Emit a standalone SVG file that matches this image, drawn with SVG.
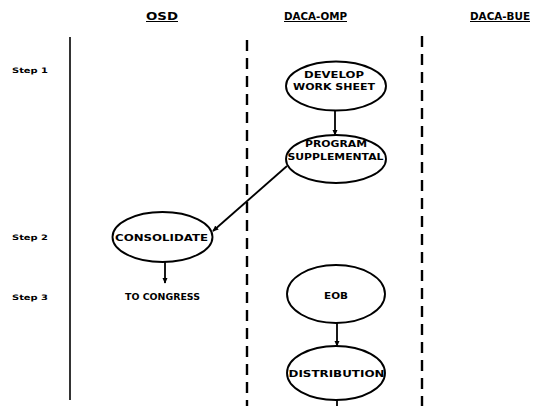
<svg xmlns="http://www.w3.org/2000/svg" width="534" height="406" viewBox="0 0 534 406">
  <defs>
    <marker id="arrow" viewBox="0 0 8 8" refX="7" refY="4" markerWidth="6" markerHeight="7" orient="auto" markerUnits="userSpaceOnUse">
      <path d="M0,0.5 L8,4 L0,7.5 z" fill="#000"/>
    </marker>
  </defs>
  <style>
    text { font-family: "DejaVu Sans", "Liberation Sans", Arial, sans-serif; font-weight: bold; fill: #000; }
    .hdr { font-size: 10px; text-decoration: underline; }
    .step { font-size: 7.5px; }
    .lbl { font-size: 9px; text-anchor: middle; }
    .node ellipse { fill: #fff; stroke: #000; stroke-width: 1.9; }
    .lane { stroke: #000; fill: none; }
    .solid { stroke-width: 1.6; }
    .dash { stroke-width: 2.4; stroke-dasharray: 11 7; }
    .conn line { stroke: #000; stroke-width: 1.8; }
  </style>
  <rect width="534" height="406" fill="#fff"/>

  <!-- column headers -->
  <g id="headers">
    <text class="hdr" x="146" y="20" textLength="32" lengthAdjust="spacingAndGlyphs">OSD</text>
    <text class="hdr" x="284" y="20" textLength="63" lengthAdjust="spacingAndGlyphs">DACA-OMP</text>
    <text class="hdr" x="470" y="20" textLength="60" lengthAdjust="spacingAndGlyphs">DACA-BUE</text>
  </g>

  <!-- step labels -->
  <g id="steps">
    <text class="step" x="12" y="73" textLength="36" lengthAdjust="spacingAndGlyphs">Step 1</text>
    <text class="step" x="12" y="240" textLength="36" lengthAdjust="spacingAndGlyphs">Step 2</text>
    <text class="step" x="12" y="300" textLength="36" lengthAdjust="spacingAndGlyphs">Step 3</text>
  </g>

  <!-- lane separators -->
  <g id="lanes">
    <line class="lane solid" x1="70" y1="37" x2="70" y2="400"/>
    <line class="lane dash" x1="247" y1="40" x2="247" y2="406"/>
    <line class="lane dash" x1="422" y1="36" x2="422" y2="406"/>
  </g>

  <!-- connectors -->
  <g id="connectors" class="conn">
    <line x1="335" y1="110" x2="335" y2="135" marker-end="url(#arrow)"/>
    <line x1="287" y1="166" x2="213" y2="231" marker-end="url(#arrow)"/>
    <line x1="165" y1="262" x2="165" y2="283" marker-end="url(#arrow)"/>
    <line x1="337" y1="323" x2="337" y2="346" marker-end="url(#arrow)"/>
    <line x1="337" y1="400" x2="337" y2="406"/>
  </g>

  <g id="develop" class="node">
    <ellipse cx="336" cy="86" rx="50" ry="24.5"/>
    <text class="lbl" x="334" y="78" textLength="60" lengthAdjust="spacingAndGlyphs">DEVELOP</text>
    <text class="lbl" x="334" y="90" textLength="82" lengthAdjust="spacingAndGlyphs">WORK SHEET</text>
  </g>

  <g id="program" class="node">
    <ellipse cx="336" cy="159" rx="50" ry="24"/>
    <text class="lbl" x="336" y="147" textLength="62" lengthAdjust="spacingAndGlyphs">PROGRAM</text>
    <text class="lbl" x="335.5" y="160" textLength="96" lengthAdjust="spacingAndGlyphs">SUPPLEMENTAL</text>
  </g>

  <g id="consolidate" class="node">
    <ellipse cx="162.5" cy="237" rx="50" ry="25"/>
    <text class="lbl" x="161.5" y="241" textLength="93" lengthAdjust="spacingAndGlyphs">CONSOLIDATE</text>
  </g>

  <g id="congress">
    <text class="lbl" x="162.5" y="300" textLength="75" lengthAdjust="spacingAndGlyphs">TO CONGRESS</text>
  </g>

  <g id="eob" class="node">
    <ellipse cx="336" cy="294" rx="49" ry="29"/>
    <text class="lbl" x="336" y="299" textLength="24" lengthAdjust="spacingAndGlyphs">EOB</text>
  </g>

  <g id="distribution" class="node">
    <ellipse cx="336" cy="373" rx="49" ry="27"/>
    <text class="lbl" x="336.5" y="377" textLength="96" lengthAdjust="spacingAndGlyphs">DISTRIBUTION</text>
  </g>
</svg>
